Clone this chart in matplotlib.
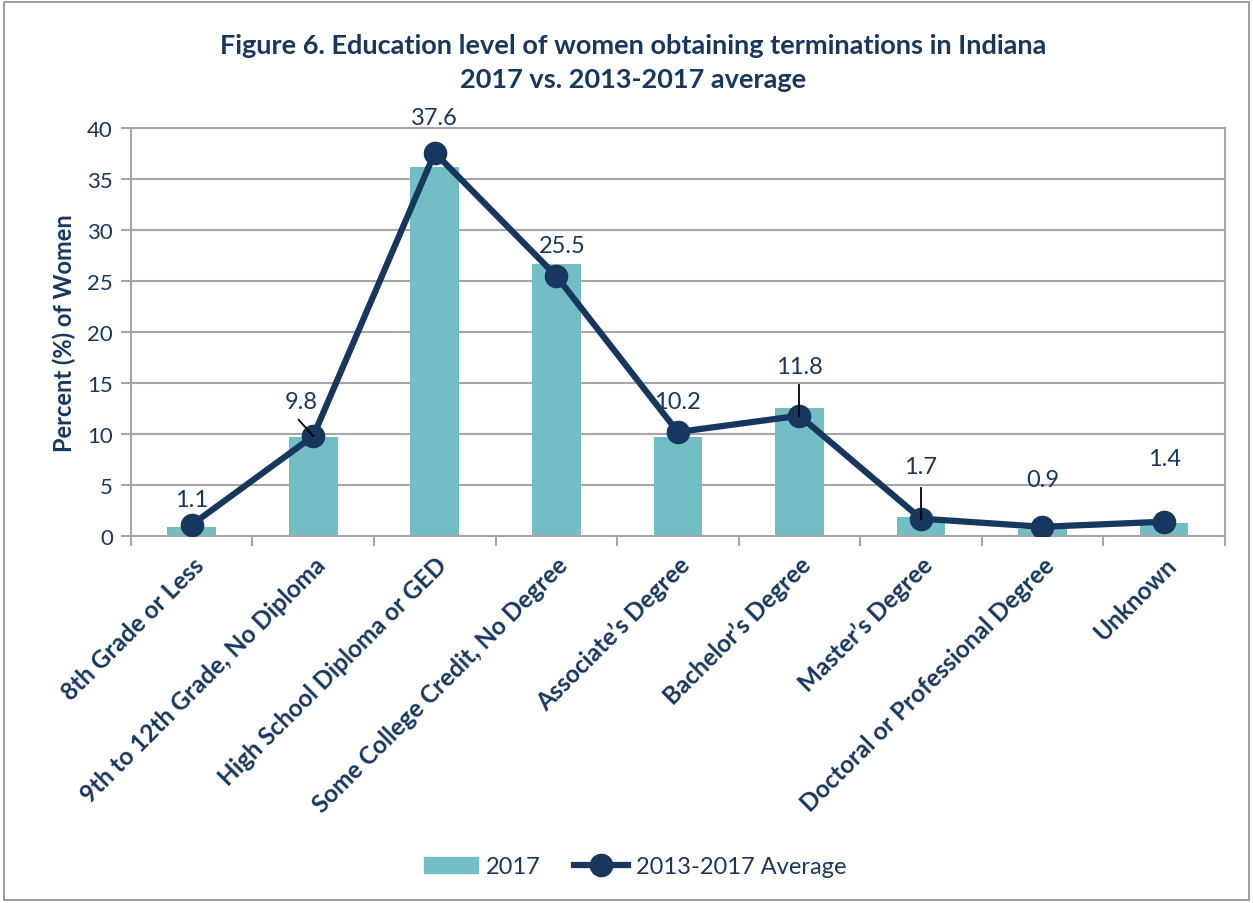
import numpy as np
import matplotlib
matplotlib.use('Agg')
import matplotlib.pyplot as plt
from matplotlib.lines import Line2D
from matplotlib.patches import Patch

categories = ["8th Grade or Less", "9th to 12th Grade, No Diploma",
              "High School Diploma or GED", "Some College Credit, No Degree",
              "Associate\u2019s Degree", "Bachelor\u2019s Degree", "Master\u2019s Degree",
              "Doctoral or Professional Degree", "Unknown"]
pct_2017 = [0.9, 9.7, 36.2, 26.7, 9.7, 12.6, 1.9, 0.7, 1.3]
pct_avg = [1.1, 9.8, 37.6, 25.5, 10.2, 11.8, 1.7, 0.9, 1.4]
y_ticks = [0, 5, 10, 15, 20, 25, 30, 35, 40]

navy = "#17375E"
teal = "#72BEC4"
grid_c = "#A6A6A6"
plt.rcParams['font.family'] = ['Lato', 'DejaVu Sans']

fig = plt.figure(figsize=(12.53, 9.04), dpi=100)
ax = fig.add_axes([0.1045, 0.406, 0.873, 0.451])
x = np.arange(len(categories))

ax.bar(x, pct_2017, width=0.4, color=teal, zorder=2)
ax.plot(x, pct_avg, color=navy, lw=4.5, marker='o', ms=16, zorder=3)

# data label placement (x shift, y shift of text centre) and leader lines
lab_off = [(0, 2.5), (-0.1, 3.4), (0, 3.5), (0.05, 3.0), (0, 3.0),
           (0, 4.8), (0, 5.1), (0, 4.6), (0, 6.2)]
leaders = {1: (-0.12, 1.6), 5: (0.0, 3.0), 6: (0.0, 3.0)}
for i, v in enumerate(pct_avg):
    if i in leaders:
        dx, dy = leaders[i]
        ax.plot([x[i] + dx, x[i]], [v + dy, v], color='black', lw=1.3, zorder=4)
    dx, dy = lab_off[i]
    ax.text(x[i] + dx, v + dy, f"{v:.1f}", ha='center', va='center',
            fontsize=17, color=navy, zorder=5)

ax.set_xlim(-0.5, len(categories) - 0.5)
ax.set_ylim(0, 40)
ax.set_yticks(y_ticks)
ax.set_yticklabels([str(t) for t in y_ticks], fontsize=16, color=navy)
ax.set_xticks(x)
ax.set_xticklabels(categories, rotation=45, ha='right', rotation_mode='anchor',
                   fontsize=17.5, fontweight='bold', color=navy)
ax.set_xticks(np.arange(-0.5, len(categories), 1), minor=True)
ax.tick_params(axis='x', which='major', length=0, pad=12)
ax.tick_params(axis='x', which='minor', length=7, color=grid_c, width=1.5, direction='out')
ax.tick_params(axis='y', length=7, color=grid_c, width=1.5, direction='out', pad=6)
ax.yaxis.grid(True, color=grid_c, lw=1.5, zorder=0)
ax.set_axisbelow(True)
for s in ax.spines.values():
    s.set_color(grid_c)
    s.set_linewidth(1.5)
ax.set_ylabel("Percent (%) of Women", fontsize=17, fontweight='bold', color=navy, labelpad=8)

fig.text(0.505, 0.962, "Figure 6. Education level of women obtaining terminations in Indiana",
         ha='center', va='top', fontsize=19.5, fontweight='bold', color=navy)
fig.text(0.505, 0.925, "2017 vs. 2013-2017 average",
         ha='center', va='top', fontsize=19.5, fontweight='bold', color=navy)

handles = [Patch(color=teal, label="2017"),
           Line2D([0], [0], color=navy, lw=4.5, marker='o', ms=16, label="2013-2017 Average")]
fig.legend(handles=handles, loc='center', bbox_to_anchor=(0.507, 0.04), ncol=2, frameon=False,
           fontsize=17, handlelength=2.3, handletextpad=0.35, columnspacing=1.4,
           labelcolor=navy)

fig.add_artist(plt.Rectangle((0.003, 0.003), 0.994, 0.994, transform=fig.transFigure,
                             fill=False, edgecolor='#8C8C8C', lw=1.2))
fig.savefig("out.png", dpi=100)
